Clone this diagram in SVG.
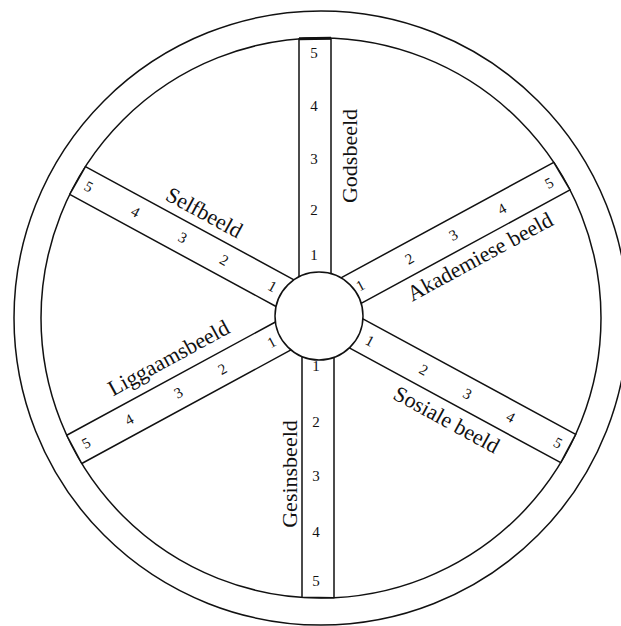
<svg xmlns="http://www.w3.org/2000/svg" width="621" height="626" viewBox="0 0 621 626">
<style>
.ln{fill:none;stroke:#111;stroke-width:1.5}
.sp{fill:#fff;stroke:#111;stroke-width:1.5;stroke-linejoin:round}
.n{font-family:"Liberation Serif","Times New Roman",serif;font-size:15px;fill:#111;text-anchor:middle}
.lb{font-family:"Liberation Serif","Times New Roman",serif;font-size:22px;fill:#111;text-anchor:middle}
</style>
<rect width="621" height="626" fill="#fff"/>
<g id="rim">
<circle class="ln" cx="321" cy="318" r="307"/>
<circle class="ln" cx="321" cy="318" r="280"/>
</g>
<g id="spokes">
<g id="godsbeeld">
<polygon class="sp" points="299,276.81 299,38.87 331,38.18 331,273.67"/>
<line x1="299" y1="38.87" x2="331" y2="38.18" stroke="#111" stroke-width="3"/>
<text class="n" x="314" y="58">5</text>
<text class="n" x="314" y="111">4</text>
<text class="n" x="314" y="164">3</text>
<text class="n" x="314" y="215">2</text>
<text class="n" x="314" y="260">1</text>
<text class="lb" transform="translate(357,156) rotate(-90)">Godsbeeld</text>
</g>
<g id="gesinsbeeld">
<polygon class="sp" points="302,356.58 302,597.35 334,597.70 334,357.36"/>
<text class="n" x="316" y="371">1</text>
<text class="n" x="316" y="427">2</text>
<text class="n" x="316" y="481">3</text>
<text class="n" x="316" y="537">4</text>
<text class="n" x="316" y="586">5</text>
<text class="lb" transform="translate(297,474) rotate(-90)">Gesinsbeeld</text>
</g>
<g id="selfbeeld">
<polygon class="sp" points="293.97,279.81 85.46,166.60 69.72,194.46 276.05,306.48"/>
<g transform="translate(319,311.6) rotate(28.5)">
<text class="n" x="-53" y="5">1</text>
<text class="n" x="-108" y="5">2</text>
<text class="n" x="-155" y="5">3</text>
<text class="n" x="-209" y="5">4</text>
<text class="n" x="-262" y="5">5</text>
<text class="lb" x="-148" y="-25">Selfbeeld</text>
</g>
</g>
<g id="akademiese-beeld">
<polygon class="sp" points="340.96,277.87 553.75,162.34 569.99,189.93 361.14,303.33"/>
<g transform="translate(319,308) rotate(-28.5)">
<text class="n" x="47" y="5">1</text>
<text class="n" x="103" y="5">2</text>
<text class="n" x="153" y="5">3</text>
<text class="n" x="208" y="5">4</text>
<text class="n" x="262" y="5">5</text>
<text class="lb" x="166" y="39">Akademiese beeld</text>
</g>
</g>
<g id="liggaamsbeeld">
<polygon class="sp" points="275.40,321.97 66.73,435.26 81.78,463.51 290.98,349.92"/>
<g transform="translate(319,316.5) rotate(-28.5)">
<text class="n" x="-54" y="5">1</text>
<text class="n" x="-110" y="5">2</text>
<text class="n" x="-160" y="5">3</text>
<text class="n" x="-216" y="5">4</text>
<text class="n" x="-265" y="5">5</text>
<text class="lb" x="-152" y="-28">Liggaamsbeeld</text>
</g>
</g>
<g id="sosiale-beeld">
<polygon class="sp" points="362.91,318.84 575.69,434.36 560.74,462.66 349.33,347.87"/>
<g transform="translate(319,313.2) rotate(28.5)">
<text class="n" x="58" y="5">1</text>
<text class="n" x="119" y="5">2</text>
<text class="n" x="169" y="5">3</text>
<text class="n" x="218" y="5">4</text>
<text class="n" x="272" y="5">5</text>
<text class="lb" x="163" y="40">Sosiale beeld</text>
</g>
</g>
</g>
<g id="hub">
<circle class="sp" cx="319" cy="316" r="44"/>
</g>
</svg>
